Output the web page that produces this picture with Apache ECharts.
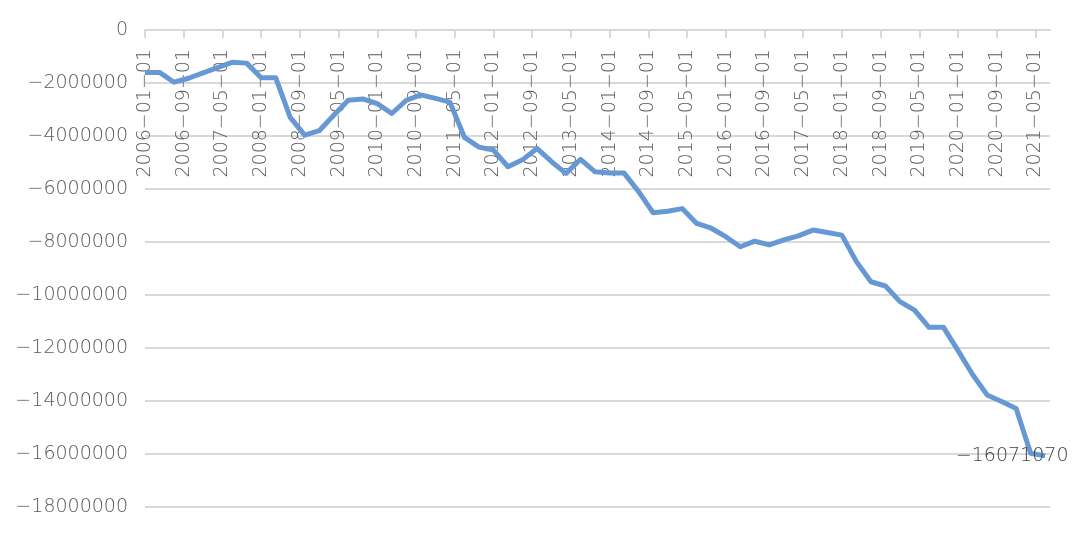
<!DOCTYPE html>
<html>
<head>
<meta charset="utf-8">
<script src="https://cdn.jsdelivr.net/npm/echarts@6/dist/echarts.min.js"></script>
<style>html,body{margin:0;padding:0;background:#fff}#c{width:1080px;height:536px}</style>
</head>
<body>
<div id="c"></div>
<script>
// Quarterly values, starting 2006-01-01, one every 3 months
const values = [-1600000,-1600000,-1970000,-1820000,-1620000,-1420000,-1220000,-1250000,-1800000,-1800000,
  -3300000,-3970000,-3800000,-3220000,-2650000,-2600000,-2780000,-3150000,-2650000,-2450000,
  -2580000,-2720000,-4050000,-4420000,-4530000,-5160000,-4900000,-4470000,-4970000,-5410000,
  -4880000,-5350000,-5400000,-5400000,-6100000,-6900000,-6840000,-6740000,-7300000,-7480000,
  -7800000,-8180000,-7970000,-8110000,-7920000,-7770000,-7550000,-7640000,-7740000,-8740000,
  -9500000,-9660000,-10250000,-10570000,-11220000,-11220000,-12100000,-13000000,-13770000,-14020000,
  -14280000,-15970000,-16071070];
const startYear = 2006;
const monthCount = 188; // 2006-01 .. 2021-08 monthly date axis
const yTicks = {min: -18000000, max: 0, interval: 2000000};

function ym(m){
  const y = startYear + Math.floor(m/12);
  const mo = m % 12 + 1;
  return y + '-' + String(mo).padStart(2,'0') + '-01';
}
const months = [];
for (let m = 0; m < monthCount; m++) months.push(ym(m));
const quarterDates = values.map((_, i) => ym(i*3));

const FONT = "'DejaVu Sans', sans-serif";
const FS = 19;
const seriesData = values.map((v, i) => {
  const item = {value: [quarterDates[i], v]};
  if (i === values.length - 1) {
    item.label = {show: true, position: 'inside', offset: [-33, 0],
      formatter: p => '\u2212' + Math.abs(p.value[1]),
      color: '#404040', fontSize: FS, fontFamily: FONT, fontWeight: 300};
  }
  return item;
});

const chart = echarts.init(document.getElementById('c'));
chart.setOption({
  animation: false,
  grid: {left: 145, right: 30, top: 30, bottom: 29},
  xAxis: {
    type: 'category', position: 'top', data: months, boundaryGap: false,
    axisLine: {lineStyle: {color: '#d9d9d9', width: 2}},
    axisTick: {inside: true, length: 8, interval: 7, lineStyle: {color: '#d9d9d9', width: 2}},
    axisLabel: {inside: true, rotate: 90, interval: 7, margin: 19, color: '#595959',
      fontSize: FS, fontFamily: FONT, fontWeight: 300,
      formatter: s => s.replace(/-/g, '\u2212')},
    splitLine: {show: false}
  },
  yAxis: {
    type: 'value', min: yTicks.min, max: yTicks.max, interval: yTicks.interval,
    axisLine: {show: false}, axisTick: {show: false},
    axisLabel: {color: '#595959', fontSize: FS, fontFamily: FONT, fontWeight: 300, margin: 17,
      formatter: v => v < 0 ? '\u2212' + Math.abs(v) : String(v)},
    splitLine: {lineStyle: {color: '#d9d9d9', width: 2}}
  },
  series: [{
    type: 'line', data: seriesData, showSymbol: true, symbol: 'circle', symbolSize: 0,
    lineStyle: {color: '#6699d4', width: 5, join: 'round'},
    itemStyle: {color: '#6699d4'},
    connectNulls: true
  }]
});
</script>
</body>
</html>
